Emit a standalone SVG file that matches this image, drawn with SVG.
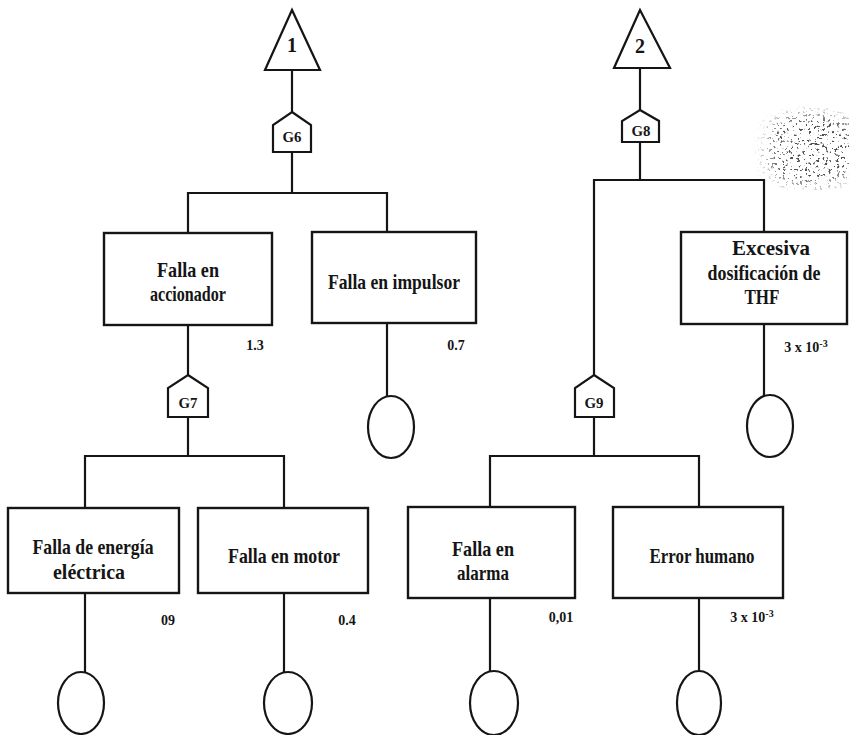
<svg xmlns="http://www.w3.org/2000/svg" width="849" height="735" viewBox="0 0 849 735">
  <style>
    .ln { fill: none; stroke: #151515; stroke-width: 2.2; stroke-linejoin: miter; }
    .bx { fill: #ffffff; stroke: #151515; stroke-width: 2.4; }
    .sh { fill: #ffffff; stroke: #151515; stroke-width: 2.2; }
    .lb { font-family: "Liberation Serif", "DejaVu Serif", serif; font-size: 22px; font-weight: bold; fill: #151515; text-anchor: middle; }
    .gt { font-family: "Liberation Serif", "DejaVu Serif", serif; font-size: 14px; font-weight: bold; fill: #151515; text-anchor: middle; }
    .pr { font-family: "Liberation Serif", "DejaVu Serif", serif; font-size: 14px; font-weight: bold; fill: #151515; text-anchor: middle; }
    .tr { font-family: "Liberation Serif", "DejaVu Serif", serif; font-size: 20px; font-weight: bold; fill: #151515; text-anchor: middle; }
  </style>
  <defs>
    <filter id="grain" x="0" y="0" width="100%" height="100%">
      <feTurbulence type="fractalNoise" baseFrequency="0.35" numOctaves="3" seed="11" result="n"/>
      <feColorMatrix in="n" type="matrix" values="0 0 0 0 0.08  0 0 0 0 0.08  0 0 0 0 0.08  12 0 0 0 -7.3"/>
    </filter>
    <linearGradient id="fadeX" x1="0" y1="0" x2="1" y2="0">
      <stop offset="0" stop-color="#fff" stop-opacity="0"/>
      <stop offset="0.3" stop-color="#fff" stop-opacity="1"/>
      <stop offset="1" stop-color="#fff" stop-opacity="1"/>
    </linearGradient>
    <radialGradient id="fadeY" cx="0.5" cy="0.55" r="0.5">
      <stop offset="0.6" stop-color="#fff" stop-opacity="1"/>
      <stop offset="1" stop-color="#fff" stop-opacity="0"/>
    </radialGradient>
    <mask id="patchY">
      <rect x="740" y="100" width="140" height="90" fill="url(#fadeY)"/>
    </mask>
    <mask id="patch">
      <rect x="752" y="100" width="97" height="90" fill="url(#fadeX)" mask="url(#patchY)"/>
    </mask>
  </defs>

  <rect width="849" height="735" fill="#ffffff"/>

  <!-- speckled smudge near the top right -->
  <g mask="url(#patch)">
    <rect x="752" y="100" width="97" height="90" filter="url(#grain)"/>
  </g>

  <!-- connectors -->
  <g id="connectors">
    <!-- tree 1 -->
    <path class="ln" d="M292 70 V112"/>
    <path class="ln" d="M292 152 V193"/>
    <path class="ln" d="M188 233 V193 H387 V232"/>
    <path class="ln" d="M188 325 V375"/>
    <path class="ln" d="M387 323 V396"/>
    <path class="ln" d="M188 417 V456"/>
    <path class="ln" d="M85 508 V456 H284 V508"/>
    <path class="ln" d="M85 593 V672"/>
    <path class="ln" d="M284 593 V672"/>
    <!-- tree 2 -->
    <path class="ln" d="M640 68 V110"/>
    <path class="ln" d="M640 142 V180"/>
    <path class="ln" d="M594 375 V180 H764 V232"/>
    <path class="ln" d="M764 324 V396"/>
    <path class="ln" d="M594 417 V456"/>
    <path class="ln" d="M490 507 V456 H699 V507"/>
    <path class="ln" d="M490 598 V671"/>
    <path class="ln" d="M699 598 V671"/>
  </g>

  <!-- transfer triangles -->
  <g id="transfer-1">
    <polygon class="sh" points="292,10 265,70 320,70"/>
    <text class="tr" x="292" y="52">1</text>
  </g>
  <g id="transfer-2">
    <polygon class="sh" points="640,10 614,68 670,68"/>
    <text class="tr" x="640" y="53">2</text>
  </g>

  <!-- gates -->
  <g id="gate-G6">
    <polygon class="sh" points="292,112 311,125 311,152 273,152 273,125"/>
    <text class="gt" x="292" y="142" textLength="19" lengthAdjust="spacingAndGlyphs">G6</text>
  </g>
  <g id="gate-G7">
    <polygon class="sh" points="188,375 208,388 208,417 168,417 168,388"/>
    <text class="gt" x="188" y="408" textLength="19" lengthAdjust="spacingAndGlyphs">G7</text>
  </g>
  <g id="gate-G8">
    <polygon class="sh" points="640,110 659,121 659,142 622,142 622,121"/>
    <text class="gt" x="641" y="136" textLength="19" lengthAdjust="spacingAndGlyphs">G8</text>
  </g>
  <g id="gate-G9">
    <polygon class="sh" points="594,375 614,388 614,417 575,417 575,388"/>
    <text class="gt" x="594" y="408" textLength="19" lengthAdjust="spacingAndGlyphs">G9</text>
  </g>

  <!-- events -->
  <g id="falla-accionador">
    <rect class="bx" x="104" y="233" width="168" height="92"/>
    <text class="lb" x="188" y="277" textLength="62" lengthAdjust="spacingAndGlyphs">Falla en</text>
    <text class="lb" x="188" y="301" textLength="76" lengthAdjust="spacingAndGlyphs">accionador</text>
    <text class="pr" x="255" y="350">1.3</text>
  </g>
  <g id="falla-impulsor">
    <rect class="bx" x="312" y="232" width="164" height="91"/>
    <text class="lb" x="394" y="289" textLength="132" lengthAdjust="spacingAndGlyphs">Falla en impulsor</text>
    <text class="pr" x="456" y="350">0.7</text>
  </g>
  <g id="excesiva-dosificacion">
    <rect class="bx" x="681" y="232" width="166" height="92"/>
    <text class="lb" x="771" y="255" textLength="78" lengthAdjust="spacingAndGlyphs">Excesiva</text>
    <text class="lb" x="764" y="280" textLength="113" lengthAdjust="spacingAndGlyphs">dosificación de</text>
    <text class="lb" x="762" y="304" textLength="35" lengthAdjust="spacingAndGlyphs">THF</text>
    <text class="pr" x="806" y="352">3 x 10<tspan font-size="10" dy="-5">-3</tspan></text>
  </g>
  <g id="falla-energia">
    <rect class="bx" x="8" y="508" width="171" height="85"/>
    <text class="lb" x="93" y="554" textLength="121" lengthAdjust="spacingAndGlyphs">Falla de energía</text>
    <text class="lb" x="89" y="579" textLength="72" lengthAdjust="spacingAndGlyphs">eléctrica</text>
    <text class="pr" x="168" y="625">09</text>
  </g>
  <g id="falla-motor">
    <rect class="bx" x="198" y="508" width="170" height="85"/>
    <text class="lb" x="284" y="563" textLength="112" lengthAdjust="spacingAndGlyphs">Falla en motor</text>
    <text class="pr" x="347" y="625">0.4</text>
  </g>
  <g id="falla-alarma">
    <rect class="bx" x="408" y="507" width="167" height="91"/>
    <text class="lb" x="483" y="556" textLength="62" lengthAdjust="spacingAndGlyphs">Falla en</text>
    <text class="lb" x="483" y="580" textLength="52" lengthAdjust="spacingAndGlyphs">alarma</text>
    <text class="pr" x="561" y="622">0,01</text>
  </g>
  <g id="error-humano">
    <rect class="bx" x="613" y="507" width="170" height="91"/>
    <text class="lb" x="702" y="563" textLength="105" lengthAdjust="spacingAndGlyphs">Error humano</text>
    <text class="pr" x="752" y="622">3 x 10<tspan font-size="10" dy="-5">-3</tspan></text>
  </g>

  <!-- basic events -->
  <g id="basico-impulsor"><ellipse class="sh" cx="391" cy="427" rx="23" ry="31"/></g>
  <g id="basico-dosificacion"><ellipse class="sh" cx="770" cy="426" rx="23" ry="31"/></g>
  <g id="basico-energia"><ellipse class="sh" cx="81" cy="703" rx="23" ry="31"/></g>
  <g id="basico-motor"><ellipse class="sh" cx="288" cy="703" rx="24" ry="31"/></g>
  <g id="basico-alarma"><ellipse class="sh" cx="494" cy="703" rx="24" ry="32"/></g>
  <g id="basico-humano"><ellipse class="sh" cx="699" cy="703" rx="22" ry="32"/></g>
</svg>
